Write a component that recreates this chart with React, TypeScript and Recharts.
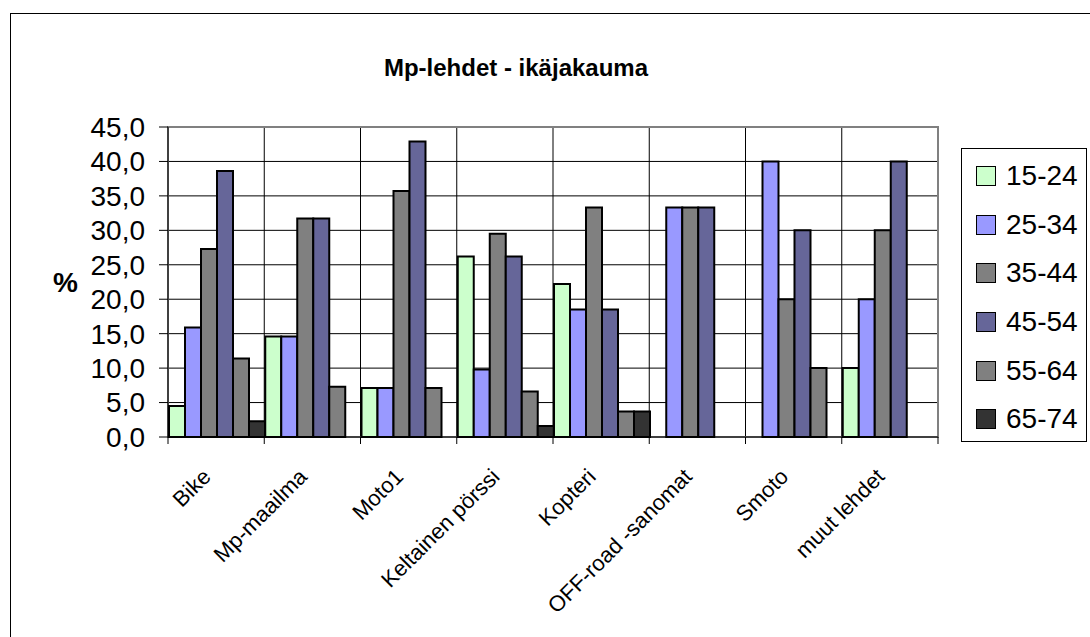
import { BarChart, Bar, XAxis, YAxis, CartesianGrid, Legend, ReferenceArea } from 'recharts';

const categories = [
  'Bike',
  'Mp-maailma',
  'Moto1',
  'Keltainen pörssi',
  'Kopteri',
  'OFF-road -sanomat',
  'Smoto',
  'muut lehdet',
];
const ageGroups = ['15-24', '25-34', '35-44', '45-54', '55-64', '65-74'];
const age15to24 = [4.5, 14.6, 7.1, 26.2, 22.2, 0, 0, 10];
const age25to34 = [15.9, 14.6, 7.1, 9.8, 18.5, 33.3, 40, 20];
const age35to44 = [27.3, 31.7, 35.7, 29.5, 33.3, 33.3, 20, 30];
const age45to54 = [38.6, 31.7, 42.9, 26.2, 18.5, 33.3, 30, 40];
const age55to64 = [11.4, 7.3, 7.1, 6.6, 3.7, 0, 10, 0];
const age65to74 = [2.3, 0, 0, 1.6, 3.7, 0, 0, 0];
const yTicks = [0, 5, 10, 15, 20, 25, 30, 35, 40, 45];

const seriesValues = [age15to24, age25to34, age35to44, age45to54, age55to64, age65to74];
const colors = ['#CCFFCC', '#9999FF', '#808080', '#666699', '#808080', '#333333'];
const font = "Arial, 'Liberation Sans', sans-serif";

const data = categories.map((name, i) => {
  const row: Record<string, string | number> = { name };
  ageGroups.forEach((g, s) => {
    row[g] = seriesValues[s][i];
  });
  return row;
});

const XTick = (props: any) => {
  const { x, y, payload, index } = props;
  const half = payload.offset ?? 48;
  return (
    <g>
      {index === 0 && <line x1={x - half} x2={x - half} y1={y} y2={y + 7} stroke="#000" />}
      <line x1={x + half} x2={x + half} y1={y} y2={y + 7} stroke="#000" />
      <text
        transform={`translate(${x - 4},${y + 41}) rotate(-45)`}
        textAnchor="end"
        fontSize={22}
        fontFamily={font}
        fill="#000"
      >
        {payload.value}
      </text>
    </g>
  );
};

const LegendBox = (props: any) => {
  const items = props.payload ?? [];
  return (
    <div
      style={{
        width: 126,
        height: 294,
        border: '1px solid #000',
        boxSizing: 'border-box',
        background: '#fff',
        paddingTop: 3,
        fontFamily: font,
      }}
    >
      {items.map((item: any) => (
        <div key={item.value} style={{ display: 'flex', alignItems: 'center', height: 48.6 }}>
          <span
            style={{
              display: 'inline-block',
              width: 18,
              height: 18,
              marginLeft: 14,
              marginRight: 10,
              background: item.color,
              border: '1.5px solid #000',
            }}
          />
          <span style={{ fontSize: 28, color: '#000' }}>{item.value}</span>
        </div>
      ))}
    </div>
  );
};

export default function App() {
  return (
    <div
      style={{
        position: 'fixed',
        left: 0,
        top: 0,
        width: 1090,
        height: 637,
        overflow: 'hidden',
        background: '#fff',
      }}
    >
      <div
        style={{
          position: 'absolute',
          left: 10,
          top: 13,
          width: 1200,
          height: 800,
          border: '1px solid #000',
        }}
      />
      <div
        style={{
          position: 'absolute',
          left: 316,
          top: 54,
          width: 400,
          textAlign: 'center',
          fontFamily: font,
          fontWeight: 'bold',
          fontSize: 24,
        }}
      >
        Mp-lehdet - ikäjakauma
      </div>
      <div style={{ position: 'absolute', left: 0, top: 0 }}>
        <BarChart
          width={1090}
          height={637}
          data={data}
          margin={{ top: 127, right: 152, left: 0, bottom: 0 }}
          barCategoryGap={1}
          barGap={0}
        >
          <CartesianGrid
            stroke="#000"
            verticalCoordinatesGenerator={({ offset }: any) =>
              [...categories, ''].map((_, i) => offset.left + (i * offset.width) / categories.length)
            }
          />
          <ReferenceArea y1={0} y2={45} fill="none" stroke="#808080" strokeWidth={2} ifOverflow="visible" />
          <XAxis
            dataKey="name"
            height={200}
            interval={0}
            tickSize={0}
            tickMargin={0}
            axisLine={{ stroke: '#000' }}
            tick={<XTick />}
          />
          <YAxis
            width={168}
            domain={[0, 45]}
            ticks={yTicks}
            interval={0}
            tickSize={9}
            tickMargin={14}
            axisLine={{ stroke: '#000' }}
            tickLine={{ stroke: '#000' }}
            tick={{ fontSize: 28, fill: '#000', fontFamily: font }}
            tickFormatter={(v: number) => v.toFixed(1).replace('.', ',')}
            label={{
              value: '%',
              position: 'insideLeft',
              offset: 53,
              style: { fontSize: 28, fontWeight: 'bold', fill: '#000', fontFamily: font },
            }}
          />
          <Legend
            layout="vertical"
            align="center"
            verticalAlign="middle"
            wrapperStyle={{ left: 961, top: 148, width: 126 }}
            content={<LegendBox />}
          />
          {ageGroups.map((g, s) => (
            <Bar
              key={g}
              dataKey={g}
              name={g}
              fill={colors[s]}
              stroke="#000"
              strokeWidth={2}
              isAnimationActive={false}
            />
          ))}
        </BarChart>
      </div>
    </div>
  );
}
